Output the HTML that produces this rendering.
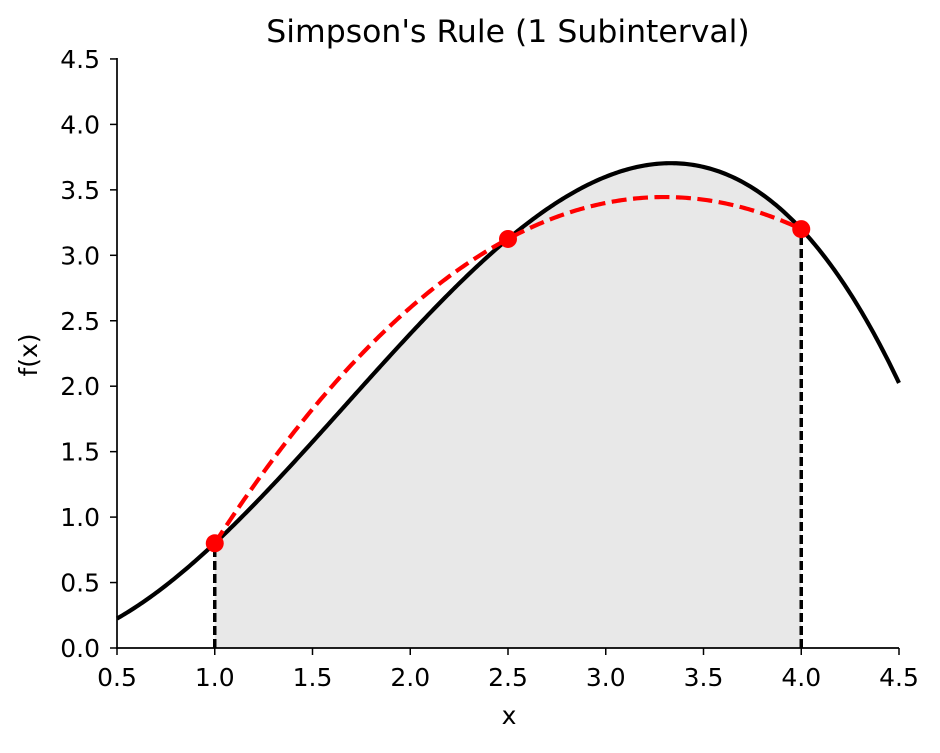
<!DOCTYPE html>
<html><head><meta charset="utf-8"><style>
html,body{margin:0;padding:0;background:#fff;}
svg text{font-family:"DejaVu Sans","Liberation Sans",sans-serif;fill:#000;}
</style></head><body>
<svg id="s" width="940" height="748" xmlns="http://www.w3.org/2000/svg">
<rect width="940" height="748" fill="#fff"/>
<g id="plot"></g>
<text x="508" y="42" font-size="31.5" text-anchor="middle">Simpson's Rule (1 Subinterval)</text>
<text x="509" y="724" font-size="25" text-anchor="middle">x</text>
<text transform="translate(37,355) rotate(-90)" font-size="25" text-anchor="middle">f(x)</text>
</svg>
<script>
var X=function(x){return 117+(x-0.5)*195.5;};
var Y=function(y){return 648-y*130.9;};
var f=function(x){return x*x-0.2*x*x*x;};
var p=function(x){return -0.5*x*x+3.3*x-2;};
var g=document.getElementById('plot'),h='';
var d='M'+X(1)+','+Y(0);
for(var i=0;i<=300;i++){var x=1+3*i/300;d+=' L'+X(x).toFixed(2)+','+Y(f(x)).toFixed(2);}
d+=' L'+X(4)+','+Y(0)+' Z';
h+='<path d="'+d+'" fill="#e8e8e8"/>';
h+='<line x1="'+X(1)+'" y1="'+Y(0)+'" x2="'+X(1)+'" y2="'+Y(f(1))+'" stroke="#000" stroke-width="3.5" stroke-dasharray="9,4"/>';
h+='<line x1="'+X(4)+'" y1="'+Y(0)+'" x2="'+X(4)+'" y2="'+Y(f(4))+'" stroke="#000" stroke-width="3.5" stroke-dasharray="9,4"/>';
d='';
for(var i=0;i<=400;i++){var x=0.5+4*i/400;d+=(i?' L':'M')+X(x).toFixed(2)+','+Y(f(x)).toFixed(2);}
h+='<path d="'+d+'" fill="none" stroke="#000" stroke-width="4.2"/>';
d='';
for(var i=0;i<=300;i++){var x=1+3*i/300;d+=(i?' L':'M')+X(x).toFixed(2)+','+Y(p(x)).toFixed(2);}
h+='<path d="'+d+'" fill="none" stroke="#f00" stroke-width="4.2" stroke-dasharray="15,6.5"/>';
[1,2.5,4].forEach(function(x){h+='<circle cx="'+X(x)+'" cy="'+Y(f(x))+'" r="9" fill="#f00"/>';});
h+='<line x1="117" y1="58" x2="117" y2="649" stroke="#000" stroke-width="1.7"/>';
h+='<line x1="116.2" y1="648" x2="899" y2="648" stroke="#000" stroke-width="1.7"/>';
for(var i=0;i<=8;i++){var x=0.5+i*0.5,px=X(x);
h+='<line x1="'+px+'" y1="648" x2="'+px+'" y2="655" stroke="#000" stroke-width="1.5"/>';
h+='<text x="'+px+'" y="686" font-size="25" text-anchor="middle">'+x.toFixed(1)+'</text>';}
for(var i=0;i<=9;i++){var y=i*0.5,py=Y(y);
h+='<line x1="110" y1="'+py+'" x2="117" y2="'+py+'" stroke="#000" stroke-width="1.5"/>';
h+='<text x="100" y="'+(py+9)+'" font-size="25" text-anchor="end">'+y.toFixed(1)+'</text>';}
g.innerHTML=h;
</script>
</body></html>
